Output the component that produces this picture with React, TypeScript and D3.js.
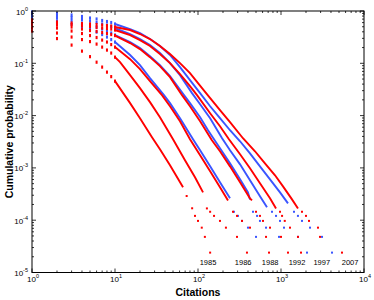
import React from 'react';
import * as d3 from 'd3';

const width = 374, height = 300,
    margin = { top: 11, right: 10, bottom: 27.5, left: 32 };

const RED = '#ff0000', BLUE = '#3a55ff';

// citation counts where the first (discrete) points sit
const headCitations = [1, 2, 3, 4, 5, 6, 7, 8, 9, 10];

// 1985 (red)
const r1985Head = [0.414, 0.297, 0.223, 0.171, 0.134, 0.105, 0.0846, 0.0678, 0.0556, 0.0456];
const r1985Body = [[10, 0.0456], [15.2, 0.0173], [20, 0.00892], [27.9, 0.00386], [34.8, 0.00227], [46, 0.00112], [66, 0.000425]];
const r1985Tail = [[73, 2.9e-4], [85, 1.69e-4], [92, 1.21e-4], [100, 9.7e-5], [111, 7.2e-5], [121, 4.8e-5], [140, 2.4e-5]];

// 1986 (red / blue)
const r1986Head = [0.472, 0.379, 0.318, 0.284, 0.26, 0.233, 0.204, 0.179, 0.157, 0.131];
const r1986Body = [[10, 0.131], [11.5, 0.105], [15.2, 0.0594], [20, 0.0335], [26.4, 0.0181], [34.8, 0.00932], [50, 0.00353], [69.7, 0.0014], [92, 0.000661], [115, 0.000341]];
const r1986Tail = [[128, 1.68e-4], [140, 1.45e-4], [156, 1.21e-4], [184, 9.7e-5], [217, 7.2e-5], [295, 4.8e-5], [389, 2.4e-5]];

const b1986Head = [0.751, 0.643, 0.564, 0.494, 0.442, 0.396, 0.355, 0.318, 0.284, 0.255];
const b1986Body = [[10, 0.255], [15.2, 0.144], [20, 0.0924], [26.4, 0.0521], [38.9, 0.0246], [46, 0.0173], [60.7, 0.00892], [87.1, 0.00353], [106, 0.00217], [140, 0.00107], [184, 0.00053], [243, 0.000262]];
const b1986Tail = [[271, 1.45e-4], [303, 1.21e-4], [339, 9.7e-5], [400, 7.2e-5], [500, 4.8e-5]];

// 1988
const r1988Head = [0.539, 0.472, 0.414, 0.371, 0.339, 0.311, 0.278, 0.255, 0.228, 0.204];
const r1988Body = [[10, 0.204], [15.2, 0.12], [20, 0.0775], [26.4, 0.0456], [36.8, 0.0246], [46, 0.0151], [60.7, 0.00781], [80.1, 0.00353], [106, 0.00174], [140, 0.00086], [184, 0.000425], [230, 0.000239]];
const r1988Tail = [[264, 1.45e-4], [295, 1.21e-4], [339, 9.7e-5], [423, 7.2e-5], [660, 4.8e-5], [717, 2.4e-5]];

const b1988Head = [0.82, 0.734, 0.658, 0.589, 0.539, 0.494, 0.452, 0.414, 0.379, 0.347];
const b1988Body = [[10, 0.347], [15.2, 0.255], [20, 0.196], [26.4, 0.137], [34.8, 0.0924], [46, 0.0569], [67.8, 0.0246], [80.1, 0.0173], [106, 0.00932], [132, 0.00525], [184, 0.00237], [243, 0.00122], [321, 0.000605], [400, 0.000341], [423, 0.00025]];
const b1988Tail = [[460, 1.45e-4], [515, 1.21e-4], [558, 9.7e-5], [660, 7.2e-5], [946, 4.8e-5]];

// 1992
const r1992Head = [0.589, 0.539, 0.494, 0.452, 0.423, 0.405, 0.387, 0.371, 0.355, 0.339];
const r1992Body = [[10, 0.339], [15.2, 0.244], [20, 0.187], [26.4, 0.131], [34.8, 0.0884], [46, 0.0544], [64.2, 0.0246], [80.1, 0.0151], [106, 0.00781], [147, 0.00338], [184, 0.00208], [243, 0.00107], [321, 0.00053], [423, 0.000262], [447, 0.000239]];
const r1992Tail = [[500, 1.45e-4], [558, 1.21e-4], [607, 9.7e-5], [737, 7.2e-5], [1000, 4.8e-5], [1214, 2.4e-5]];

const b1992Head = [0.896, 0.82, 0.751, 0.688, 0.643, 0.602, 0.564, 0.539, 0.505, 0.472];
const b1992Body = [[10, 0.472], [15.2, 0.363], [20, 0.291], [26.4, 0.223], [34.8, 0.157], [46, 0.101], [60.7, 0.0594], [84.7, 0.0269], [106, 0.0165], [140, 0.00892], [195, 0.00369], [243, 0.00217], [321, 0.00117], [423, 0.000579], [558, 0.000286], [678, 0.000176]];
const b1992Tail = [[779, 1.45e-4], [871, 1.21e-4], [973, 9.7e-5], [1087, 7.2e-5], [1602, 4.8e-5], [2057, 2.4e-5]];

// 1997
const r1997Head = [0.629, 0.589, 0.551, 0.528, 0.505, 0.483, 0.472, 0.462, 0.452, 0.433];
const r1997Body = [[10, 0.433], [15.2, 0.347], [20, 0.278], [26.4, 0.214], [34.8, 0.15], [46, 0.101], [60.7, 0.0621], [80.1, 0.0366], [97.3, 0.0246], [140, 0.0111], [184, 0.00626], [236, 0.00353], [321, 0.00182], [423, 0.000983], [558, 0.000507], [737, 0.000262], [871, 0.000168]];
const r1997Tail = [[973, 1.45e-4], [1030, 1.21e-4], [1110, 9.7e-5], [1283, 7.2e-5], [1602, 4.8e-5], [1742, 2.4e-5]];

const b1997Head = [0.957, 0.896, 0.838, 0.785, 0.734, 0.703, 0.658, 0.629, 0.602, 0.564];
const b1997Body = [[10, 0.564], [15.2, 0.452], [20, 0.379], [26.4, 0.291], [34.8, 0.214], [46, 0.144], [60.7, 0.0846], [80.1, 0.0477], [106, 0.0269], [140, 0.0151], [184, 0.00892], [243, 0.00525], [321, 0.00323], [423, 0.0019], [558, 0.00107], [737, 0.000605], [973, 0.000341], [1214, 0.00021]];
const b1997Tail = [[1434, 1.45e-4], [1600, 1.21e-4], [1790, 9.7e-5], [2236, 7.2e-5], [3120, 4.8e-5], [4117, 2.4e-5]];

// 2007 (red)
const r2007Head = [0.673, 0.616, 0.589, 0.576, 0.564, 0.551, 0.539, 0.528, 0.516, 0.494];
const r2007Body = [[10, 0.494], [15.2, 0.433], [20, 0.363], [26.4, 0.291], [34.8, 0.214], [46, 0.15], [60.7, 0.101], [80.1, 0.0649], [100, 0.0418], [128, 0.0257], [184, 0.0127], [243, 0.00747], [348, 0.00369], [486, 0.00208], [641, 0.00122], [847, 0.000722], [1057, 0.000444], [1357, 0.00025], [1602, 0.000168]];
const r2007Tail = [[1790, 1.45e-4], [2000, 1.21e-4], [2175, 9.7e-5], [2790, 7.2e-5], [2950, 4.8e-5], [5430, 2.4e-5]];

// year annotations along the bottom
const yearLabels = ['1985', '1986', '1988', '1992', '1997', '2007'];
const yearLabelAt = [132, 350, 740, 1560, 3100, 6800];

// blues first so reds sit on top
const series = [
    { color: BLUE, head: b1986Head, body: b1986Body, tail: b1986Tail },
    { color: BLUE, head: b1988Head, body: b1988Body, tail: b1988Tail },
    { color: BLUE, head: b1992Head, body: b1992Body, tail: b1992Tail },
    { color: BLUE, head: b1997Head, body: b1997Body, tail: b1997Tail },
    { color: RED, head: r1985Head, body: r1985Body, tail: r1985Tail },
    { color: RED, head: r1986Head, body: r1986Body, tail: r1986Tail },
    { color: RED, head: r1988Head, body: r1988Body, tail: r1988Tail },
    { color: RED, head: r1992Head, body: r1992Body, tail: r1992Tail },
    { color: RED, head: r1997Head, body: r1997Body, tail: r1997Tail },
    { color: RED, head: r2007Head, body: r2007Body, tail: r2007Tail },
];

const font = 'Arial, "Liberation Sans", Helvetica, sans-serif';

export default function App() {
    const x = d3.scaleLog().domain([1, 1e4]).range([margin.left, width - margin.right]);
    const y = d3.scaleLog().domain([1e-5, 1]).range([height - margin.bottom, margin.top]);
    const line = d3.line<number[]>().x(d => x(d[0])).y(d => y(d[1]));

    const isMajor = (t: number) => Math.abs(Math.log10(t) - Math.round(Math.log10(t))) < 1e-6;
    const xTicks = x.ticks();
    const yTicks = y.ticks();

    const left = margin.left, right = width - margin.right,
        top = margin.top, bottom = height - margin.bottom;

    return (
        <div style={{ position: 'absolute', left: 0, top: 0 }}>
            <svg width={width} height={height} style={{ display: 'block', background: '#fff' }}>
                {series.map((s, i) => (
                    <g key={i} fill={s.color}>
                        <path d={line(s.body) || ''} fill="none" stroke={s.color} strokeWidth={1.9} />
                        {s.head.map((p, j) => (
                            <rect key={'h' + j} x={x(headCitations[j]) - 1} y={y(p) - 1.6} width={2} height={3.2} />
                        ))}
                        {s.tail.map((d, j) => (
                            <rect key={'t' + j} x={x(d[0]) - 1} y={y(d[1]) - 1} width={2} height={2} />
                        ))}
                    </g>
                ))}

                {/* axes box */}
                <rect x={left} y={top} width={right - left} height={bottom - top} fill="none" stroke="#000" strokeWidth={1} />

                {xTicks.map((t, i) => {
                    const len = isMajor(t) ? 4 : 2;
                    const px = x(t);
                    return (
                        <g key={'xt' + i} stroke="#000" strokeWidth={0.8}>
                            <line x1={px} x2={px} y1={bottom} y2={bottom - len} />
                            <line x1={px} x2={px} y1={top} y2={top + len} />
                        </g>
                    );
                })}
                {yTicks.map((t, i) => {
                    const len = isMajor(t) ? 4 : 2;
                    const py = y(t);
                    return (
                        <g key={'yt' + i} stroke="#000" strokeWidth={0.8}>
                            <line x1={left} x2={left + len} y1={py} y2={py} />
                            <line x1={right} x2={right - len} y1={py} y2={py} />
                        </g>
                    );
                })}

                {xTicks.filter(isMajor).map((t, i) => (
                    <text key={'xl' + i} x={x(t) + 1} y={281.5} textAnchor="middle" fontFamily={font} fontSize={8}>
                        10<tspan dy={-4} fontSize={5.5}>{Math.round(Math.log10(t))}</tspan>
                    </text>
                ))}
                {yTicks.filter(isMajor).map((t, i) => (
                    <text key={'yl' + i} x={28} y={y(t) + 3.5} textAnchor="end" fontFamily={font} fontSize={8}>
                        10<tspan dy={-4} fontSize={5.5}>{Math.round(Math.log10(t))}</tspan>
                    </text>
                ))}

                {yearLabels.map((label, i) => (
                    <text key={label} x={x(yearLabelAt[i])} y={265} textAnchor="middle" fontFamily={font} fontSize={7.5}>{label}</text>
                ))}

                <text x={(left + right) / 2} y={296} textAnchor="middle" fontFamily={font} fontSize={10.5} fontWeight="bold">Citations</text>
                <text transform={`translate(13, ${(top + bottom) / 2}) rotate(-90)`} textAnchor="middle" fontFamily={font} fontSize={10.5} fontWeight="bold">Cumulative probability</text>
            </svg>
        </div>
    );
}
